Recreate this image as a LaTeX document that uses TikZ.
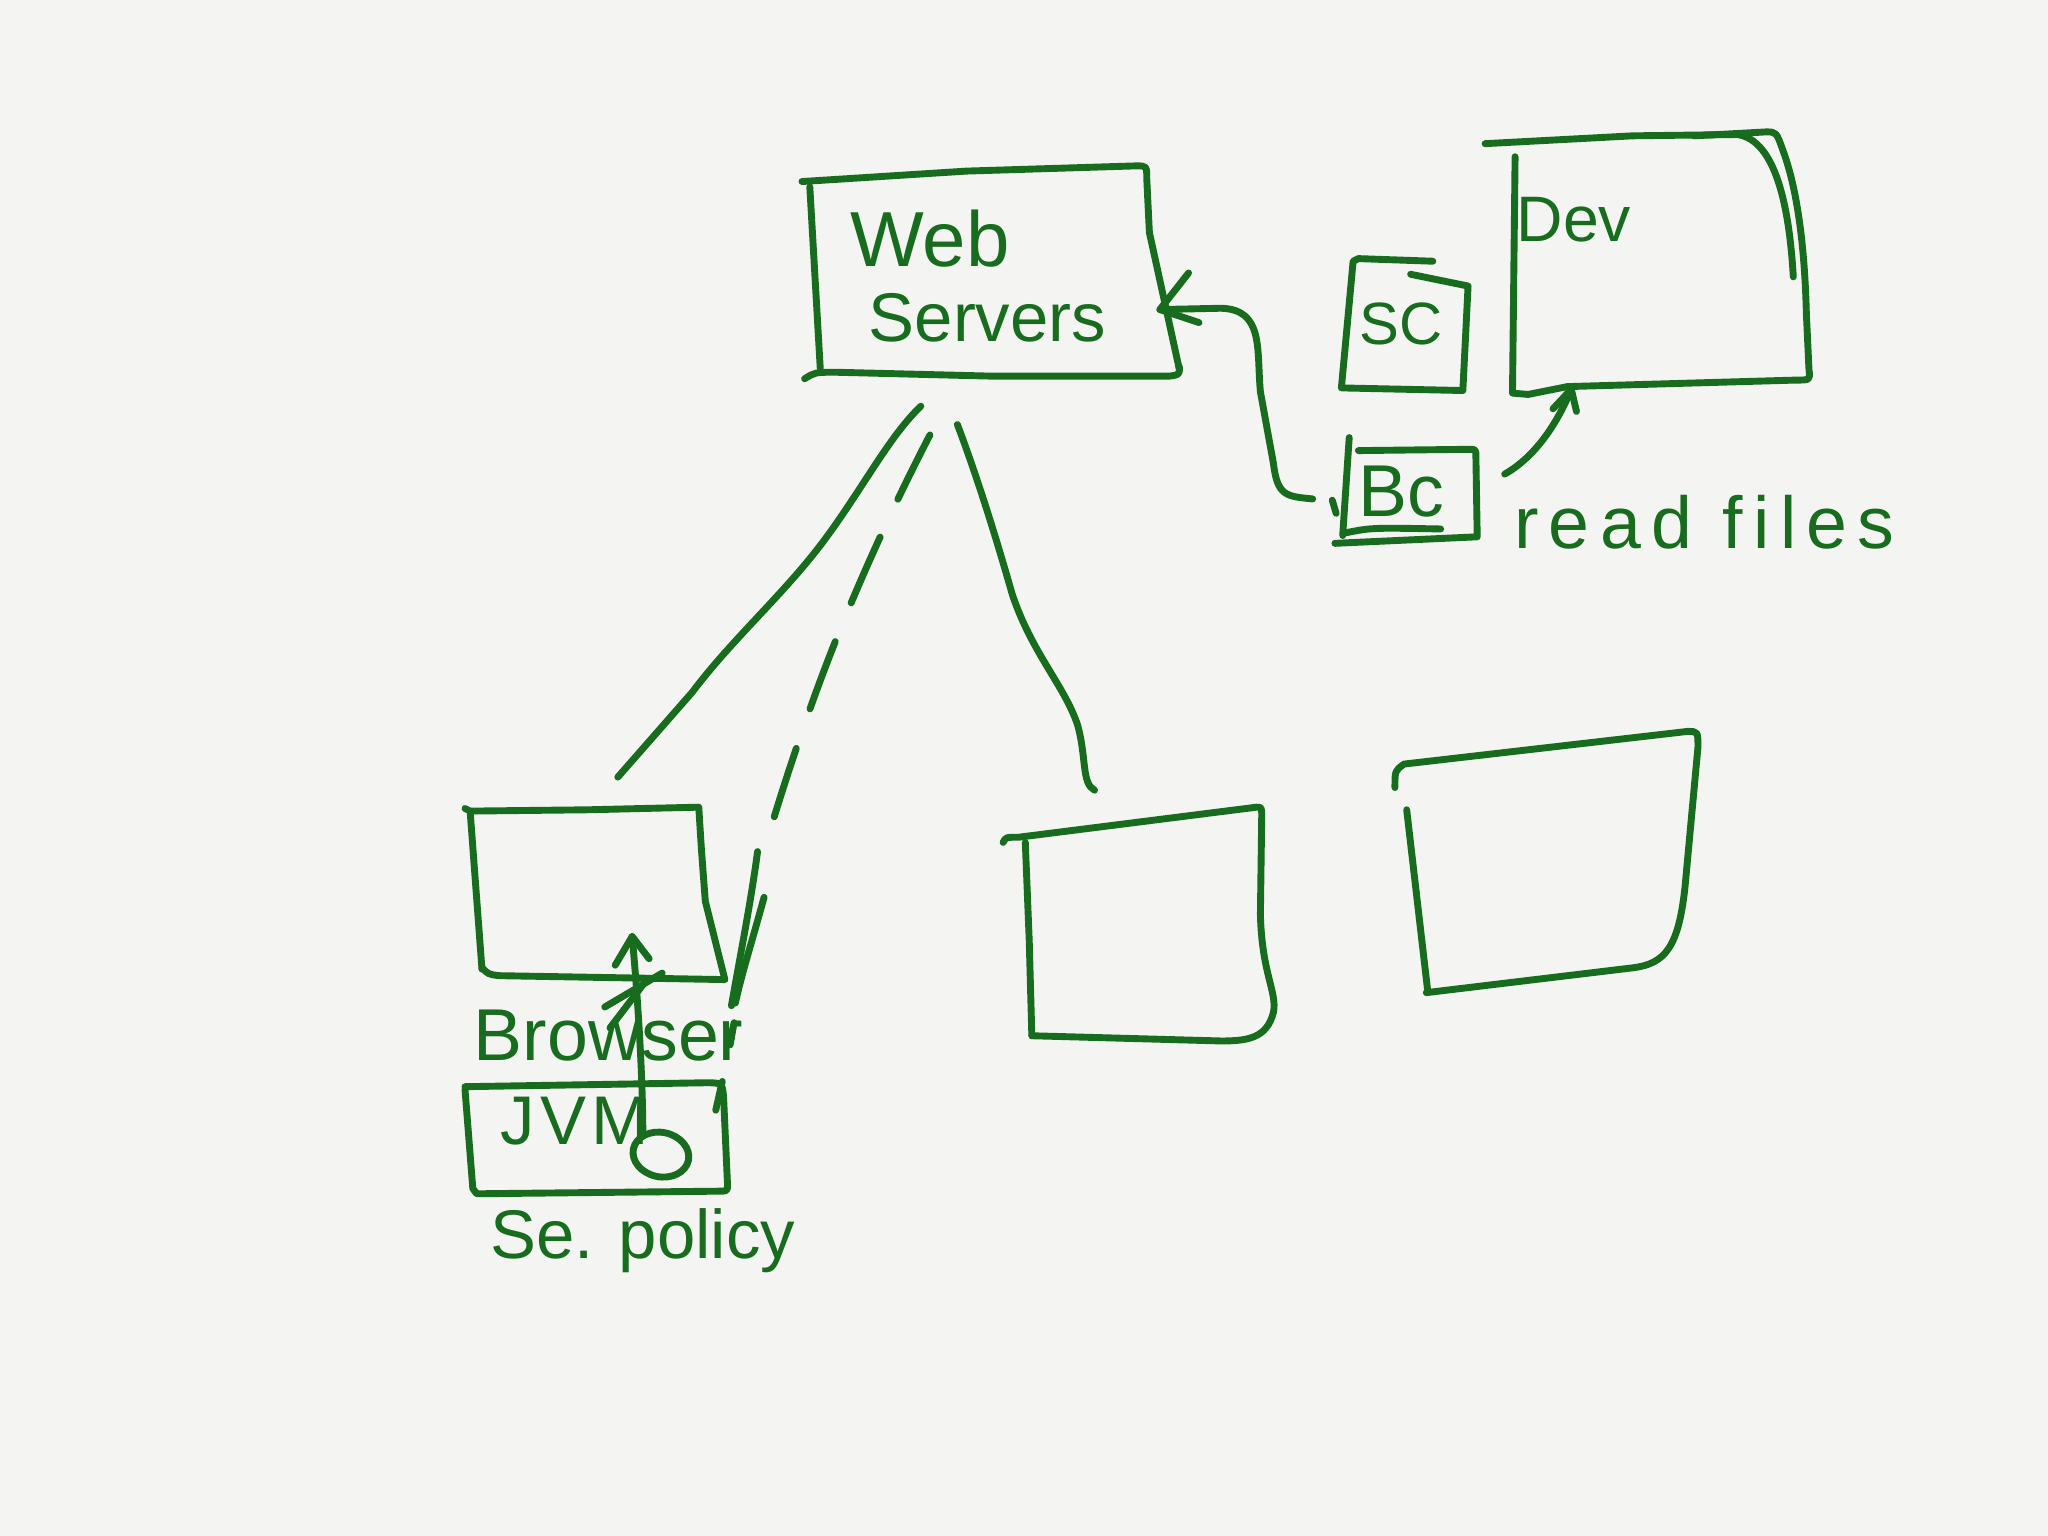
\documentclass[tikz,border=0pt]{standalone}
\usepackage{fontspec}
\setmainfont{Liberation Sans}
\usetikzlibrary{shapes.geometric}
\definecolor{ink}{RGB}{24,108,30}
\definecolor{paper}{RGB}{244,244,243}
\begin{document}
\begin{tikzpicture}[x=0.01cm,y=-0.01cm,
  pen/.style={draw=ink,line width=1.5pt,line cap=round,line join=round},
  dashpen/.style={pen,dash pattern={on 0.55cm off 0.32cm}},
  lbl/.style={text=ink,inner sep=0pt,font=\fontsize{15}{17}\selectfont}]
\fill[paper] (0,0) rectangle (1568,1176);
\useasboundingbox (0,0) rectangle (1568,1176);

% ---------- Web Servers box ----------
\draw[pen] (614,139) -- (740,131) -- (870,127) .. controls (878,127) .. (878,137) -- (880,178) -- (903,283);
\draw[pen] (616,290) .. controls (624,285) .. (640,285) -- (760,288) -- (895,288) .. controls (903,287) .. (903,281);
\draw[pen] (620,143) -- (628,282);
\node[lbl,font=\fontsize{17}{19}\selectfont] (web) at (712,183) {Web};
\node[lbl,font=\fontsize{15}{17}\selectfont] (srv) at (756,243) {Servers};
\coordinate (webR) at (888,237);
\coordinate (webB1) at (705,311);
\coordinate (webB2) at (712,333);
\coordinate (webB3) at (733,325);

% ---------- SC box ----------
\draw[pen] (1097,200) -- (1040,198) -- (1036,200) -- (1027,297) -- (1120,299) -- (1124,219) -- (1080,210);
\node[lbl,font=\fontsize{13}{15}\selectfont] (sc) at (1073,248) {SC};

% ---------- Dev box ----------
\draw[pen] (1137,110) -- (1250,104) -- (1330,103) .. controls (1360,107) and (1370,160) .. (1373,212);
\draw[pen] (1297,104) -- (1352,101) .. controls (1360,101) .. (1365,115) .. controls (1378,150) and (1382,200) .. (1383,240) -- (1385,283) .. controls (1386,291) .. (1375,291) -- (1200,296) -- (1170,302) -- (1158,301) -- (1160,120);
\node[lbl,font=\fontsize{14}{16}\selectfont] (dev) at (1205,168) {Dev};
\coordinate (devB) at (1203,298);

% ---------- Bc box ----------
\draw[pen] (1033,335) -- (1028,410);
\draw[pen] (1040,345) -- (1125,344) .. controls (1130,344) .. (1130,350) -- (1131,411) -- (1022,416);
\draw[pen] (1030,408) .. controls (1050,404) .. (1103,405);
\draw[pen] (1020,383) -- (1023,393);
\node[lbl,font=\fontsize{16}{18}\selectfont] (bc) at (1073,376) {Bc};
\coordinate (bcL) at (1005,382);
\coordinate (bcR) at (1152,363);

% Bc -> Web Servers
\draw[pen] (bcL) .. controls (985,380) and (978,380) .. (975,355) -- (965,300) .. controls (962,268) and (968,237) .. (935,236) -- (webR);
\draw[pen] (910,209) -- (webR) -- (918,247);

% Bc -> Dev (read files)
\draw[pen] (bcR) .. controls (1175,350) and (1192,325) .. (devB);
\draw[pen] (1189,313) -- (devB) -- (1207,315);
\node[lbl,font=\fontsize{16}{18}\selectfont\addfontfeature{LetterSpace=14}] (rf) at (1305,400) {read files};

% ---------- Browser box ----------
\draw[pen] (356,619) -- (360,621) -- (450,620) -- (535,618) -- (537,650) -- (540,690) -- (555,750) -- (382,747) .. controls (374,746) .. (369,741);
\draw[pen] (360,622) -- (369,742);
\node[lbl,font=\fontsize{16}{18}\selectfont] (brw) at (466,793) {Browser};
\coordinate (brwT) at (473,595);

% ---------- JVM box ----------
\draw[pen] (356,832) -- (540,829) .. controls (553,829) .. (554,840) -- (557,907) .. controls (557,912) .. (550,912) -- (365,914) -- (362,910) -- (356,834);
\node[lbl,font=\fontsize{15}{17}\selectfont\addfontfeature{LetterSpace=8}] (jvm) at (440,858) {JVM};
\node[draw=ink,line width=1.5pt,ellipse,minimum width=0.43cm,minimum height=0.34cm,inner sep=0pt,rotate=-12] (pol) at (506,884) {};
\node[lbl] (sep) at (492,950) {Se. policy};
\coordinate (jvmT) at (548,850);

% arrow from policy up into browser
\coordinate (upTip) at (484,717);
\draw[pen] (pol.north west) .. controls (492,820) and (488,760) .. (upTip);
\draw[pen] (471,739) -- (upTip) -- (497,734);
\draw[pen] (463,771) -- (507,745);
\draw[pen] (467,787) -- (493,753);

% ---------- middle box ----------
\draw[pen] (768,645) .. controls (770,641) .. (780,641) -- (962,618) .. controls (966,618) .. (966,625) -- (965,700) .. controls (966,745) and (978,760) .. (975,775) .. controls (970,795) and (955,797) .. (935,797) -- (790,793);
\draw[pen] (785,645) -- (788,720) -- (790,793);
\coordinate (midT) at (838,605);

% ---------- right box ----------
\draw[pen] (1068,603) .. controls (1068,590) .. (1075,585) -- (1292,560) .. controls (1300,560) .. (1300,572) -- (1290,680) .. controls (1285,725) and (1275,738) .. (1250,741) -- (1092,760);
\draw[pen] (1077,620) -- (1093,758);

% ---------- connectors from Web Servers ----------
\draw[pen] (webB1) .. controls (680,335) and (660,375) .. (630,415) .. controls (600,455) and (560,490) .. (530,530) -- (brwT);
\draw[dashpen] (webB2) .. controls (685,385) and (660,440) .. (640,490) .. controls (620,540) and (600,600) .. (586,648);
\draw[pen] (580,652) .. controls (575,690) and (567,730) .. (560,770);
\draw[pen] (585,687) .. controls (576,720) and (568,745) .. (563,768);
\draw[pen] (562,783) -- (559,800);
\draw[pen] (553,828) -- (jvmT);
\draw[pen] (webB3) .. controls (750,370) and (765,420) .. (775,455) .. controls (790,500) and (815,525) .. (825,555) .. controls (832,580) and (828,600) .. (midT);
\end{tikzpicture}
\end{document}
